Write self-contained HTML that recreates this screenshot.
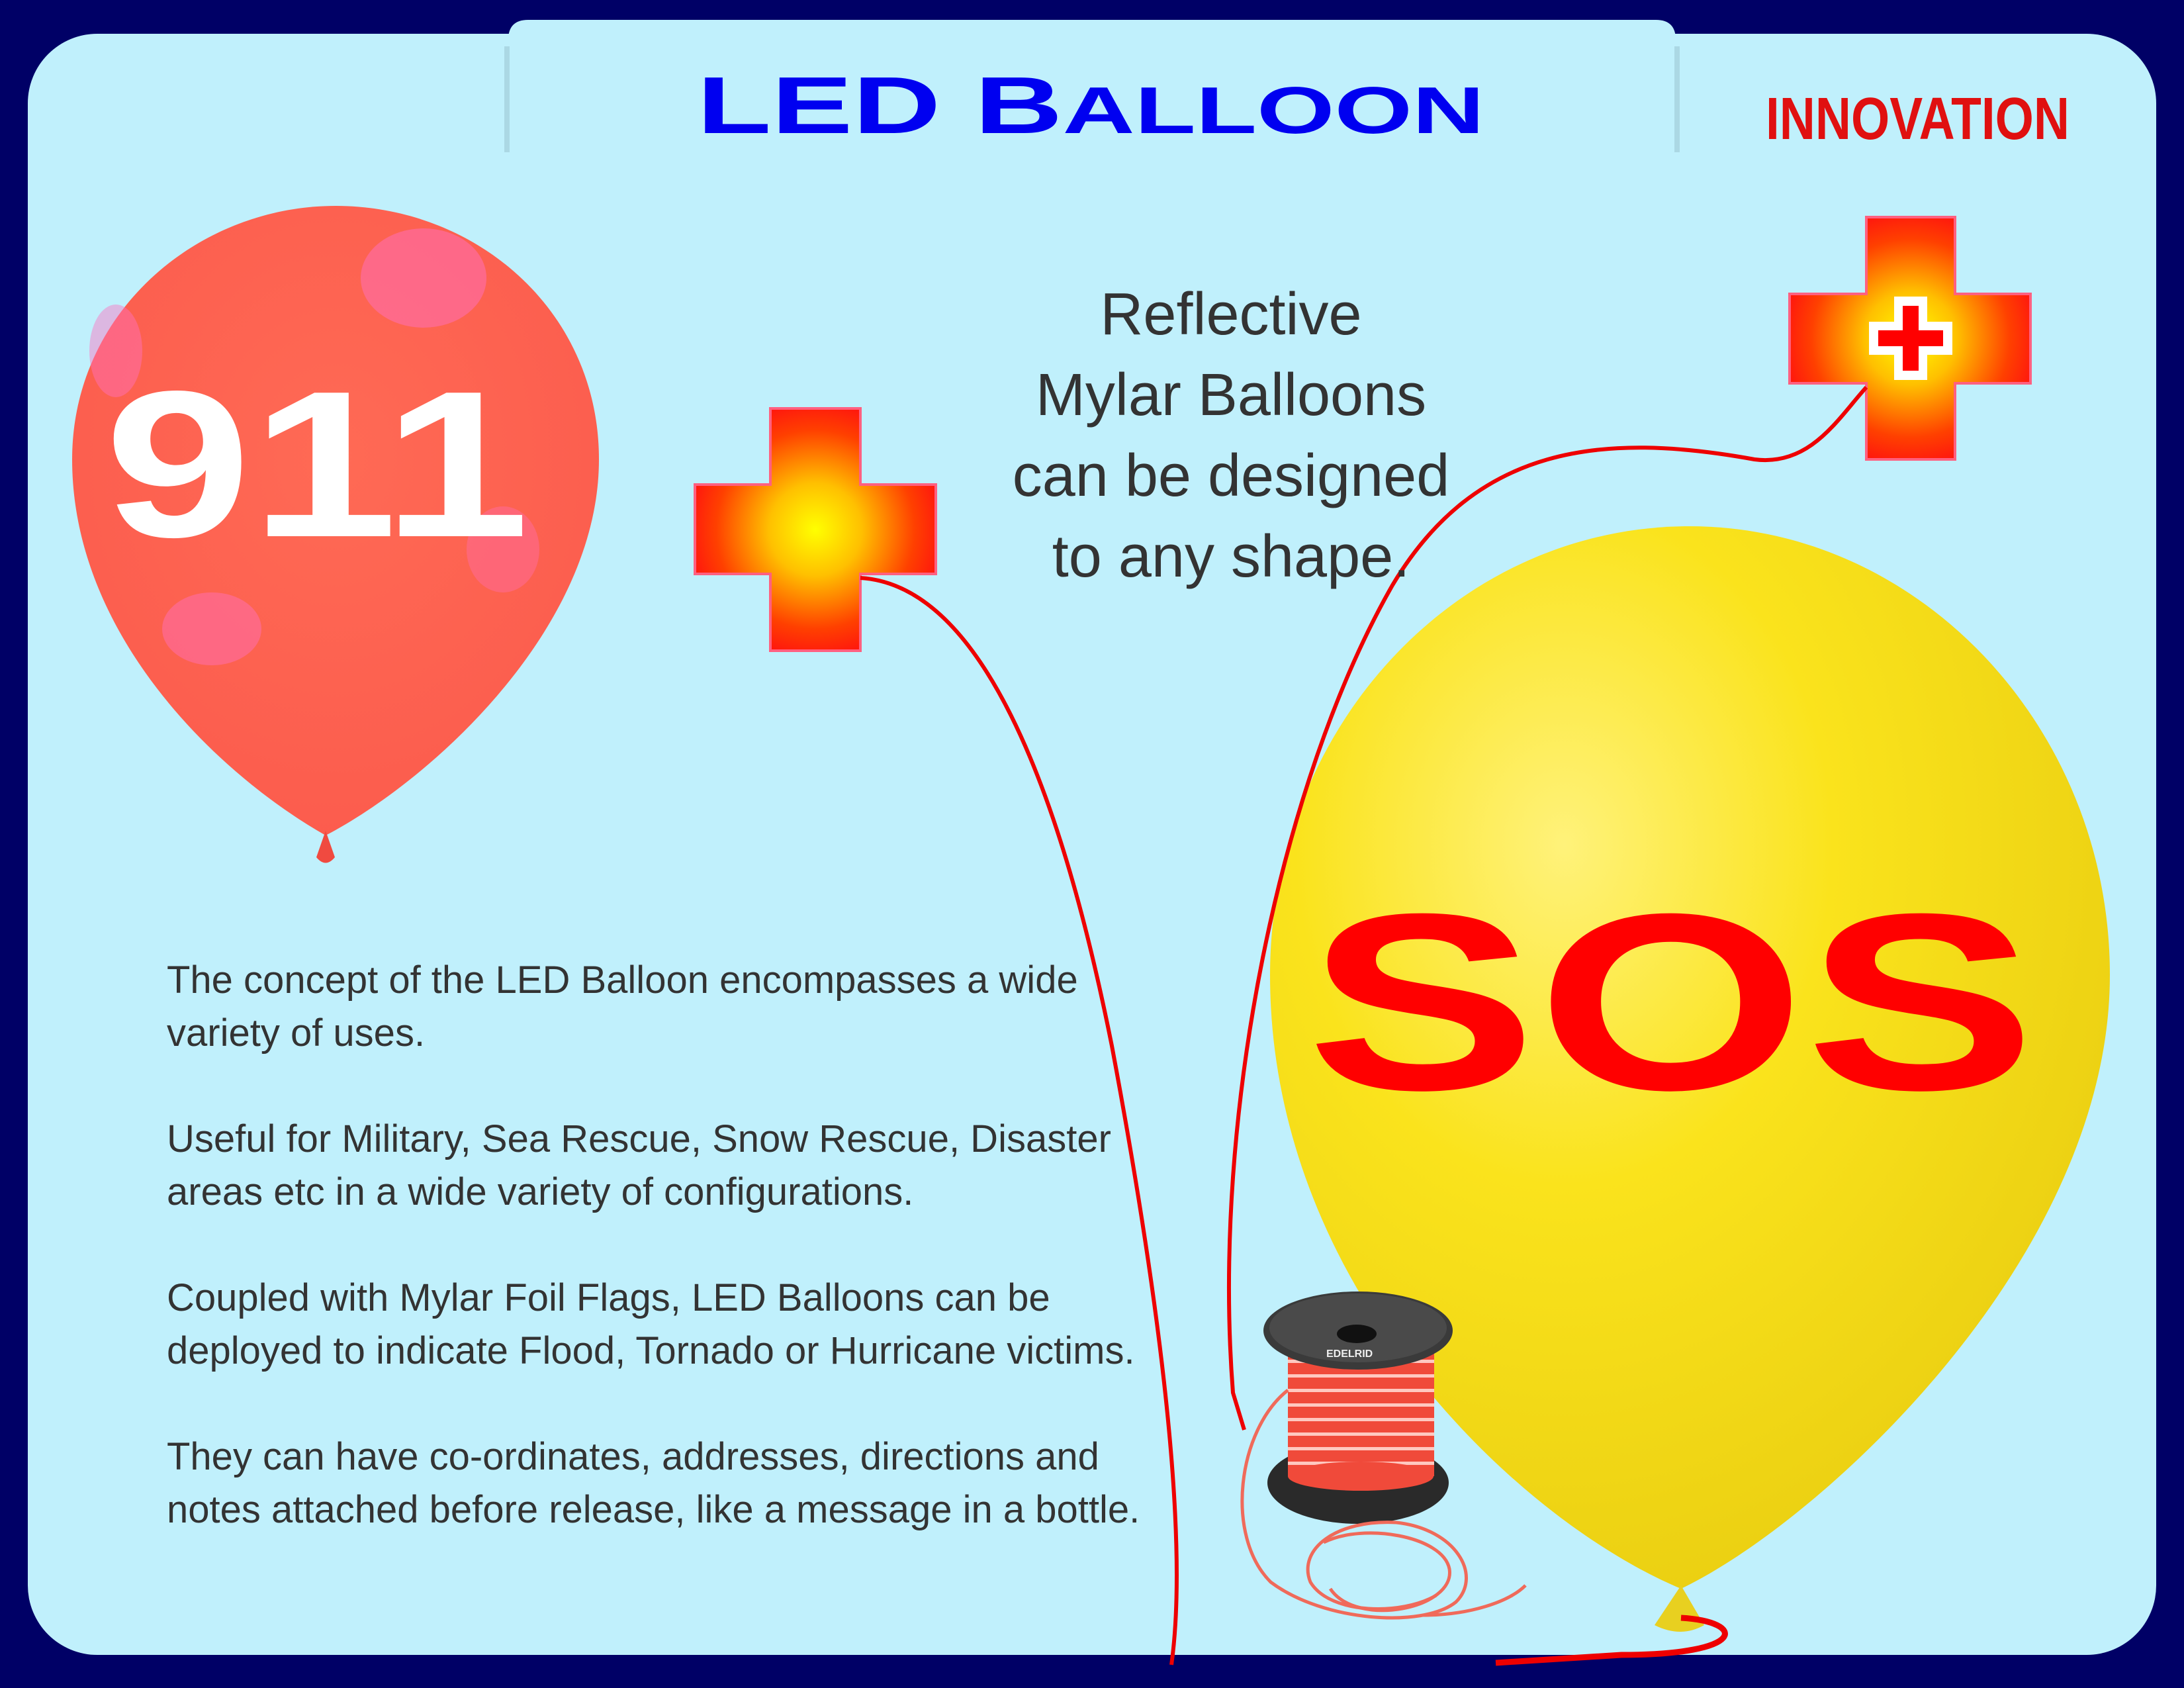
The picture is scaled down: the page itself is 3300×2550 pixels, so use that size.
<!DOCTYPE html>
<html><head><meta charset="utf-8"><style>
html,body{margin:0;padding:0;background:#000066;}
svg{display:block}
</style></head><body>
<svg width="3300" height="2550" viewBox="0 0 3300 2550" xmlns="http://www.w3.org/2000/svg">
<defs>
<radialGradient id="cg1" cx="1232" cy="800" r="200" gradientUnits="userSpaceOnUse">
<stop offset="0" stop-color="#ffff00"/><stop offset="0.35" stop-color="#ffc000"/><stop offset="0.75" stop-color="#ff4000"/><stop offset="1" stop-color="#ff1010"/></radialGradient>
<radialGradient id="cg2" cx="2887" cy="511" r="200" gradientUnits="userSpaceOnUse">
<stop offset="0" stop-color="#ffff00"/><stop offset="0.35" stop-color="#ffc000"/><stop offset="0.75" stop-color="#ff4000"/><stop offset="1" stop-color="#ff1010"/></radialGradient>
<radialGradient id="yb" cx="0.35" cy="0.3" r="0.8">
<stop offset="0" stop-color="#fff27a"/><stop offset="0.4" stop-color="#fae31c"/><stop offset="1" stop-color="#e8cc10"/></radialGradient>
<radialGradient id="rb" cx="0.5" cy="0.4" r="0.7">
<stop offset="0" stop-color="#ff6a55"/><stop offset="1" stop-color="#fb5a4c"/></radialGradient>
<pattern id="stripes" width="20" height="22" patternUnits="userSpaceOnUse"><rect width="20" height="22" fill="#f04a3a"/><rect y="8" width="20" height="5" fill="#ffc8c0"/></pattern>
</defs>
<rect width="3300" height="2550" fill="#000066"/>
<rect x="42" y="51" width="3216" height="2449" rx="105" fill="#c0f0fc"/>
<path d="M768,230 L768,60 Q768,30 798,30 L2502,30 Q2532,30 2532,60 L2532,230 Z" fill="#c0f0fc"/>
<rect x="762" y="70" width="8" height="160" fill="#9cc8d4" opacity="0.6"/>
<rect x="2530" y="70" width="8" height="160" fill="#9cc8d4" opacity="0.6"/>
<text x="1053" y="201" textLength="1190" lengthAdjust="spacingAndGlyphs" font-family="Liberation Sans, sans-serif" font-weight="bold" fill="#0000f0" font-size="122">LED <tspan font-size="122">B</tspan><tspan font-size="100">ALLOON</tspan></text>
<text x="2668" y="210" textLength="459" lengthAdjust="spacingAndGlyphs" font-family="Liberation Sans, sans-serif" font-weight="bold" fill="#e01010" font-size="90">INNOVATION</text>

<path d="M507,311 C720,311 905,470 905,694 C905,950 650,1180 492,1262 C330,1170 109,960 109,694 C109,470 300,311 507,311 Z" fill="url(#rb)"/>
<ellipse cx="640" cy="420" rx="95" ry="75" fill="#ff70c0" opacity="0.5"/>
<ellipse cx="175" cy="530" rx="40" ry="70" fill="#ff70c0" opacity="0.45"/>
<ellipse cx="320" cy="950" rx="75" ry="55" fill="#ff70c0" opacity="0.45"/>
<ellipse cx="760" cy="830" rx="55" ry="65" fill="#ff70c0" opacity="0.35"/>
<path d="M492,1255 L478,1295 Q492,1312 506,1295 Z" fill="#f04a40"/>
<text x="158" y="810" textLength="642" lengthAdjust="spacingAndGlyphs" font-family="Liberation Sans, sans-serif" font-weight="bold" fill="#ffffff" font-size="315">911</text>

<path d="M2553,795 C2900,795 3188,1100 3188,1473 C3188,1900 2750,2300 2540,2400 C2300,2300 1919,1950 1919,1473 C1919,1100 2200,795 2553,795 Z" fill="url(#yb)"/>
<path d="M2540,2395 L2500,2455 Q2540,2475 2575,2455 Z" fill="#e8d020"/>
<text x="1974" y="1645" textLength="1102" lengthAdjust="spacingAndGlyphs" font-family="Liberation Sans, sans-serif" font-weight="bold" fill="#ff0000" font-size="380">SOS</text>

<path d="M1164,617 H1300 V732 H1414 V867 H1300 V983 H1164 V867 H1050 V732 H1164 Z" fill="url(#cg1)" stroke="#ff6080" stroke-width="4"/>
<path d="M2820,328 H2954 V444 H3068 V579 H2954 V694 H2820 V579 H2704 V444 H2820 Z" fill="url(#cg2)" stroke="#ff6080" stroke-width="4"/>
<path d="M2862,448 H2912 V486 H2950 V536 H2912 V574 H2862 V536 H2824 V486 H2862 Z" fill="#ffffff"/>
<path d="M2875,462 H2899 V499 H2936 V523 H2899 V560 H2875 V523 H2838 V499 H2875 Z" fill="#ff0000"/>

<g fill="none" stroke="#ee0000" stroke-width="6">
<path d="M1300,873 C1480,884 1600,1180 1680,1580 C1740,1900 1800,2300 1770,2515"/>
<path d="M2820,585 C2778,631 2736,705 2651,694 C2420,652 2230,673 2104,884 C1936,1178 1830,1683 1863,2104 L1880,2160"/>
<path d="M2540,2444 C2640,2450 2640,2500 2450,2500 L2260,2512" stroke-width="9"/>
</g>

<ellipse cx="2052" cy="2240" rx="137" ry="62" fill="#2a2a2a"/>
<rect x="1946" y="2030" width="221" height="200" fill="url(#stripes)"/>
<ellipse cx="2056" cy="2230" rx="110" ry="22" fill="#f04a3a"/>
<ellipse cx="2052" cy="2010" rx="143" ry="59" fill="#3a3a3a"/>
<ellipse cx="2052" cy="2006" rx="134" ry="52" fill="#4a4a4a"/>
<ellipse cx="2050" cy="2015" rx="30" ry="14" fill="#111"/>
<text x="2004" y="2050" font-family="Liberation Sans, sans-serif" font-weight="bold" fill="#eee" font-size="16">EDELRID</text>
<g fill="none" stroke="#f06a5a" stroke-width="5">
<path d="M1946,2100 C1870,2160 1850,2320 1920,2390 C2000,2450 2150,2460 2200,2420 C2240,2380 2200,2310 2110,2300 C2020,2295 1960,2340 1980,2390 C2010,2440 2120,2440 2170,2410"/>
<path d="M2000,2330 C2060,2300 2180,2320 2190,2370 C2200,2430 2050,2460 2010,2400"/>
<path d="M2150,2440 C2220,2440 2280,2420 2305,2395"/>
</g>

<g font-family="Liberation Sans, DejaVu Sans, sans-serif" fill="#333333" font-size="90" text-anchor="middle">
<text x="1860" y="505">Reflective</text>
<text x="1860" y="627">Mylar Balloons</text>
<text x="1860" y="749">can be designed</text>
<text x="1860" y="871">to any shape.</text>
</g>
<g font-family="Liberation Sans, DejaVu Sans, sans-serif" fill="#333333" font-size="58">
<text x="252" y="1500">The concept of the LED Balloon encompasses a wide</text>
<text x="252" y="1580">variety of uses.</text>
<text x="252" y="1740">Useful for Military, Sea Rescue, Snow Rescue, Disaster</text>
<text x="252" y="1820">areas etc in a wide variety of configurations.</text>
<text x="252" y="1980">Coupled with Mylar Foil Flags, LED Balloons can be</text>
<text x="252" y="2060">deployed to indicate Flood, Tornado or Hurricane victims.</text>
<text x="252" y="2220">They can have co-ordinates, addresses,  directions and</text>
<text x="252" y="2300">notes attached before release, like a message in a bottle.</text>
</g>
</svg>
</body></html>
